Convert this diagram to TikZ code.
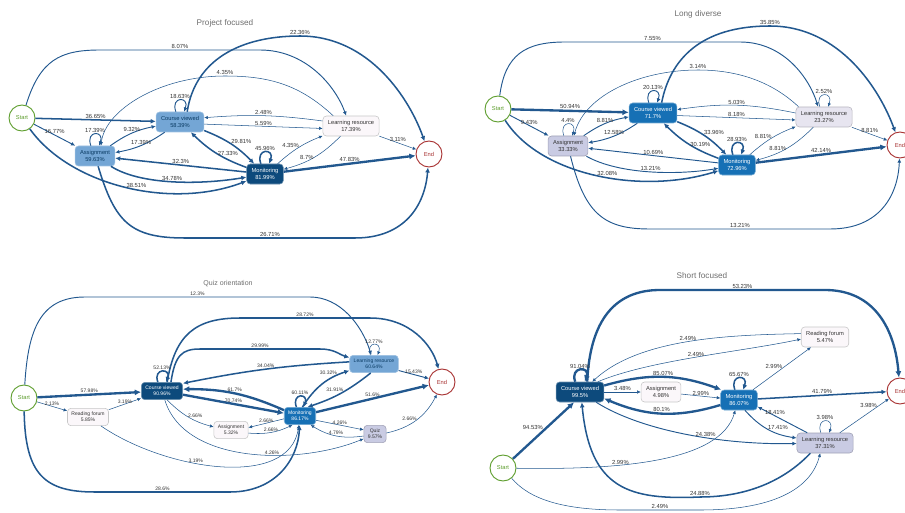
\documentclass[tikz,border=0pt]{standalone}
\usepackage{fontspec}
\setmainfont{Liberation Sans}
\usepackage{tikz}
\usetikzlibrary{arrows.meta}
\definecolor{edgeb}{HTML}{22588F}
\definecolor{startg}{HTML}{5E9E2E}
\definecolor{endr}{HTML}{A83232}
\definecolor{boxnavy}{HTML}{0D4A7C}
\definecolor{boxblue}{HTML}{1670B5}
\definecolor{boxlight}{HTML}{74A6D5}
\definecolor{boxlav}{HTML}{C9CBE3}
\definecolor{boxpale}{HTML}{E7E5F0}
\definecolor{boxwhite}{HTML}{FBF7FA}
\definecolor{labc}{HTML}{333333}
\definecolor{ttlc}{HTML}{6E6E6E}
\tikzset{lab/.style={font=\fontsize{5}{6}\selectfont,text=labc,inner sep=.6pt},pm/.style={rounded corners=3pt,align=center,line width=.5pt,inner xsep=4.2pt,inner ysep=1pt,minimum height=.6cm,font=\fontsize{4.9}{5.8}\selectfont},term/.style={circle,fill=white,line width=.8pt,minimum size=.78cm,inner sep=0pt,font=\fontsize{4.9}{5.8}\selectfont},ttl/.style={font=\fontsize{7}{8}\selectfont,text=ttlc}}
\begin{document}
\begin{tikzpicture}[x=0.03cm,y=-0.03cm,fl/.style={draw=edgeb,-{Latex[length=2.4pt 1.5,width=2.2pt 1.5]}},w1/.style={fl,line width=.45pt},w2/.style={fl,line width=.8pt},w3/.style={fl,line width=1.3pt},w4/.style={fl,line width=2pt},nv/.style={pm,fill=boxnavy,draw=boxnavy!60!white,text=white},mb/.style={pm,fill=boxblue,draw=boxblue!60!white,text=white},lb/.style={pm,fill=boxlight,draw=boxlight!70!white,text=boxnavy!80!black},lv/.style={pm,fill=boxlav,draw=boxlav!80!black,text=labc},pl/.style={pm,fill=boxpale,draw=boxpale!80!black,text=labc},wh/.style={pm,fill=boxwhite,draw=black!22,text=labc},st/.style={term,draw=startg,text=startg},en/.style={term,draw=endr,text=endr}]
\useasboundingbox (0,0) rectangle (905,513);
\node[ttl] (aT) at (225,23) {Project focused};
\node[st] (aS) at (22,118) {Start};
\node[lb] (aCV) at (180,122) {Course viewed\\58.39\%};
\node[lb] (aAs) at (95,156) {Assignment\\59.63\%};
\node[nv] (aMo) at (265,174) {Monitoring\\81.99\%};
\node[wh] (aLR) at (351,126) {Learning resource\\17.39\%};
\node[en] (aE) at (429,154) {End};
\draw[w3] (aS) -- node[lab,above]{36.65\%} (aCV);
\draw[w2] (aS) -- node[lab,above]{16.77\%} (aAs);
\draw[w3] (aS) .. controls (70,185) and (170,210) .. (aMo) node[lab,pos=.55,above]{38.51\%};
\draw[w2] (aS) .. controls (40,60) and (60,50) .. (100,50) -- node[lab,above]{8.07\%} (260,50) .. controls (305,50) and (335,85) .. (aLR.115);
\draw[w3] (aAs) .. controls (115,222) and (130,238) .. (185,238) -- node[lab,above]{26.71\%} (355,238) .. controls (405,238) and (425,205) .. (aE);
\draw[w2] (aAs.112) .. controls +(110:5mm) and +(70:5mm) .. (aAs.68) node[lab,pos=.5,above]{17.39\%};
\draw[w2] (aAs) to[bend left=12] node[lab,above]{9.32\%} (aCV);
\draw[w2] (aCV) to[bend left=12] node[lab,above]{17.39\%} (aAs);
\draw[w2] (aCV.112) .. controls +(110:5mm) and +(70:5mm) .. (aCV.68) node[lab,pos=.5,above]{18.63\%};
\draw[w3] (aCV) to[bend left=12] node[lab,above right=-1pt]{29.81\%} (aMo);
\draw[w3] (aMo) to[bend left=12] node[lab,right]{27.33\%} (aCV);
\draw[w3] (aMo) -- node[lab,above]{32.3\%} (aAs);
\draw[w3] (aAs) .. controls (140,185) and (200,185) .. (aMo) node[lab,pos=.5,above]{34.78\%};
\draw[w3] (aMo.112) .. controls +(110:5mm) and +(70:5mm) .. (aMo.68) node[lab,pos=.5,above]{45.96\%};
\draw[w1] (aMo) to[bend left=10] node[lab,above left=-1pt]{4.35\%} (aLR);
\draw[w1] (aLR) to[bend left=15] node[lab,left]{8.7\%} (aMo);
\draw[w4] (aMo) -- node[lab,above]{47.83\%} (aE);
\draw[w1] (aLR) -- node[lab,above]{3.11\%} (aE);
\draw[w1] (aLR.170) to[bend right=6] node[lab,above]{2.48\%} (aCV.10);
\draw[w1] (aCV.-5) -- node[lab,above]{5.59\%} (aLR.185);
\draw[w1] (aLR.150) .. controls (300,85) and (270,76) .. (225,76) node[lab,above]{4.35\%} .. controls (160,76) and (105,110) .. (aAs.60);
\draw[w3] (aCV.55) .. controls (195,60) and (240,36) .. (300,36) node[lab,above]{22.36\%} .. controls (370,36) and (410,100) .. (aE);
\node[ttl] (bT) at (698,14) {Long diverse};
\node[st] (bS) at (498,109) {Start};
\node[mb] (bCV) at (653,113) {Course viewed\\71.7\%};
\node[lv] (bAs) at (568,146) {Assignment\\33.33\%};
\node[mb] (bMo) at (737,165) {Monitoring\\72.96\%};
\node[pl] (bLR) at (824,117) {Learning resource\\23.27\%};
\node[en] (bE) at (900,145) {End};
\draw[w4] (bS) -- node[lab,above]{50.94\%} (bCV);
\draw[w2] (bS) -- node[lab,above]{9.43\%} (bAs);
\draw[w3] (bS) .. controls (540,175) and (640,195) .. (bMo) node[lab,pos=.55,above]{32.08\%};
\draw[w2] (bS) .. controls (505,55) and (525,42) .. (565,42) -- node[lab,above]{7.55\%} (740,42) .. controls (785,42) and (810,80) .. (bLR.120);
\draw[w2] (bAs) .. controls (585,215) and (605,229) .. (650,229) -- node[lab,above]{13.21\%} (830,229) .. controls (880,229) and (898,195) .. (bE);
\draw[w1] (bAs.112) .. controls +(110:5mm) and +(70:5mm) .. (bAs.68) node[lab,pos=.5,above]{4.4\%};
\draw[w2] (bAs) to[bend left=12] node[lab,above]{8.81\%} (bCV);
\draw[w2] (bCV) to[bend left=12] node[lab,above]{12.58\%} (bAs);
\draw[w2] (bCV.112) .. controls +(110:5mm) and +(70:5mm) .. (bCV.68) node[lab,pos=.5,above]{20.13\%};
\draw[w3] (bCV) to[bend left=12] node[lab,above right=-1pt]{33.96\%} (bMo);
\draw[w3] (bMo) to[bend left=12] node[lab,right]{30.19\%} (bCV);
\draw[w2] (bMo) -- node[lab,above]{10.69\%} (bAs);
\draw[w2] (bAs) .. controls (620,175) and (680,175) .. (bMo) node[lab,pos=.5,above]{13.21\%};
\draw[w3] (bMo.112) .. controls +(110:5mm) and +(70:5mm) .. (bMo.68) node[lab,pos=.5,above]{28.93\%};
\draw[w1] (bMo) to[bend left=10] node[lab,above left=-1pt]{8.81\%} (bLR);
\draw[w1] (bLR) to[bend left=15] node[lab,left]{8.81\%} (bMo);
\draw[w4] (bMo) -- node[lab,above]{42.14\%} (bE);
\draw[w1] (bLR) -- node[lab,above]{8.81\%} (bE);
\draw[w1] (bLR.172) to[bend right=10] node[lab,above]{5.03\%} (bCV.8);
\draw[w1] (bCV.-6) -- node[lab,above]{8.18\%} (bLR.186);
\draw[w1] (bLR.158) .. controls (770,80) and (735,70) .. (698,70) node[lab,above]{3.14\%} .. controls (640,70) and (585,95) .. (bAs.60);
\draw[w1] (bLR.112) .. controls +(110:5mm) and +(70:5mm) .. (bLR.68) node[lab,pos=.5,above]{2.52\%};
\draw[w3] (bCV.50) .. controls (670,60) and (700,26) .. (770,26) node[lab,above]{35.85\%} .. controls (840,26) and (880,90) .. (bE);
\begin{scope}[lab/.append style={font=\fontsize{4.3}{5}\selectfont},pm/.append style={font=\fontsize{4.3}{5.1}\selectfont,inner xsep=3.4pt,minimum height=.52cm},ttl/.append style={font=\fontsize{6}{7}\selectfont}]
\node[ttl] (cT) at (228,284) {Quiz orientation};
\node[st] (cS) at (24,398) {Start};
\node[nv] (cCV) at (162,391) {Course viewed\\90.96\%};
\node[wh] (cRF) at (88,417) {Reading forum\\5.85\%};
\node[wh] (cAs) at (231,430) {Assignment\\5.32\%};
\node[mb] (cMo) at (300,416) {Monitoring\\86.17\%};
\node[lb] (cLR) at (374,364) {Learning resource\\60.64\%};
\node[lv] (cQz) at (375,434) {Quiz\\9.57\%};
\node[en] (cE) at (442,382) {End};
\draw[w4] (cS) -- node[lab,above]{57.98\%} (cCV);
\draw[w1] (cS) -- node[lab,above]{2.13\%} (cRF);
\draw[w1] (cRF) -- node[lab,above]{3.19\%} (cCV);
\draw[w1] (cRF) .. controls (165,470) and (290,490) .. (cMo) node[lab,pos=.4,above]{3.19\%};
\draw[w3] (cS) .. controls (25,475) and (45,492) .. (95,492) -- node[lab,above]{28.6\%} (230,492) .. controls (275,492) and (298,460) .. (cMo);
\draw[w2] (cS) .. controls (28,330) and (40,297) .. (85,297) -- node[lab,above]{12.3\%} (310,297) .. controls (340,297) and (362,325) .. (cLR);
\draw[w3] (cCV.60) .. controls (175,335) and (195,318) .. (240,318) -- node[lab,above]{28.72\%} (370,318) .. controls (410,318) and (432,345) .. (cE);
\draw[w3] (cCV.45) .. controls (175,355) and (182,349) .. (200,349) -- node[lab,above]{29.99\%} (320,349) .. controls (335,349) and (340,355) .. (cLR);
\draw[w3] (cLR.175) to[bend right=4] node[lab,above]{34.04\%} (cCV.20);
\draw[w4] (cMo.160) to[bend right=12] node[lab,above]{61.7\%} (cCV.5);
\draw[w4] (cCV.-10) -- node[lab,above]{70.74\%} (cMo.170);
\draw[w1] (cCV.-60) to[bend right=15] node[lab,above right=-1pt]{2.66\%} (cAs.170);
\draw[w1] (cMo.190) -- node[lab,above]{2.66\%} (cAs.8);
\draw[w1] (cAs.-10) to[bend right=15] node[lab,above]{2.66\%} (cMo.-130);
\draw[w3] (cCV.115) .. controls +(110:4.5mm) and +(70:4.5mm) .. (cCV.65) node[lab,pos=.5,above]{52.13\%};
\draw[w3] (cMo.112) .. controls +(110:4.5mm) and +(70:4.5mm) .. (cMo.68) node[lab,pos=.5,above]{60.11\%};
\draw[w3] (cMo.75) to[bend left=20] node[lab,pos=.8,above left=-1pt]{30.32\%} (cLR.195);
\draw[w3] (cLR.-110) to[bend left=10] node[lab,pos=.45,above left=-1pt]{31.91\%} (cMo.50);
\draw[w1] (cLR.112) .. controls +(110:4.5mm) and +(70:4.5mm) .. (cLR.68) node[lab,pos=.5,above]{12.77\%};
\draw[w2] (cLR) -- node[lab,above]{15.43\%} (cE);
\draw[w4] (cMo) -- node[lab,above]{51.6\%} (cE);
\draw[w1] (cMo.-15) -- node[lab,above]{4.26\%} (cQz.160);
\draw[w1] (cQz.190) to[bend left=20] node[lab,above]{4.79\%} (cMo.-40);
\draw[w1] (cQz.5) to[bend right=25] node[lab,above left=-1pt]{2.66\%} (cE);
\draw[w1] (cCV) .. controls (185,465) and (300,465) .. (cQz) node[lab,pos=.6,above]{4.26\%};
\end{scope}
\node[ttl] (dT) at (702,276) {Short focused};
\node[st] (dS) at (503,468) {Start};
\node[nv] (dCV) at (580,392) {Course viewed\\99.5\%};
\node[wh] (dAs) at (661,392) {Assignment\\4.98\%};
\node[mb] (dMo) at (739,400) {Monitoring\\86.07\%};
\node[wh] (dRF) at (825,337) {Reading forum\\5.47\%};
\node[lv] (dLR) at (825,443) {Learning resource\\37.31\%};
\node[en] (dE) at (900,391) {End};
\draw[w4] (dS) -- node[lab,above left=-1pt]{94.53\%} (dCV.-120);
\draw[w1] (dS) .. controls (620,470) and (720,462) .. (dMo.-110) node[lab,pos=.35,above]{2.99\%};
\draw[w1] (dS) .. controls (530,500) and (565,510) .. (620,510) -- node[lab,above]{2.49\%} (700,510) .. controls (780,510) and (812,485) .. (dLR.-115);
\draw[w4] (dCV.55) .. controls (590,320) and (615,290) .. (660,290) -- node[lab,above]{53.23\%} (825,290) .. controls (875,290) and (895,330) .. (dE);
\draw[w4] (dCV.115) .. controls +(110:5mm) and +(70:5mm) .. (dCV.65) node[lab,pos=.5,above]{91.04\%};
\draw[w1] (dCV) -- node[lab,above]{3.48\%} (dAs);
\draw[w1] (dAs) -- node[lab,above]{2.99\%} (dMo);
\draw[w4] (dCV.15) to[bend left=18] node[lab,above]{85.07\%} (dMo.150);
\draw[w4] (dMo.195) to[bend left=20] node[lab,above]{80.1\%} (dCV.-15);
\draw[w2] (dCV) .. controls (640,430) and (720,445) .. (dLR) node[lab,pos=.6,above]{24.38\%};
\draw[w3] (dLR.-145) .. controls (780,485) and (740,497) .. (700,497) node[lab,above]{24.88\%} .. controls (630,500) and (590,490) .. (dCV.-80);
\draw[w1] (dRF.172) .. controls (730,335) and (640,338) .. (dCV.40) node[lab,pos=.5,above]{2.49\%};
\draw[w1] (dCV.30) .. controls (650,360) and (740,352) .. (dRF.185) node[lab,pos=.5,above]{2.49\%};
\draw[w1] (dMo) -- node[lab,above left=-1pt]{2.99\%} (dRF);
\draw[w3] (dMo.112) .. controls +(110:5mm) and +(70:5mm) .. (dMo.68) node[lab,pos=.5,above]{65.67\%};
\draw[w3] (dMo) -- node[lab,above]{41.79\%} (dE);
\draw[w2] (dMo.-60) to[bend right=20] node[lab,above right=-1pt]{17.41\%} (dLR.170);
\draw[w2] (dLR.150) -- node[lab,pos=.65,above]{18.41\%} (dMo.-20);
\draw[w1] (dLR.112) .. controls +(110:5mm) and +(70:5mm) .. (dLR.68) node[lab,pos=.5,above]{3.98\%};
\draw[w1] (dLR) -- node[lab,pos=.75,above left=-1pt]{3.98\%} (dE);
\end{tikzpicture}
\end{document}
